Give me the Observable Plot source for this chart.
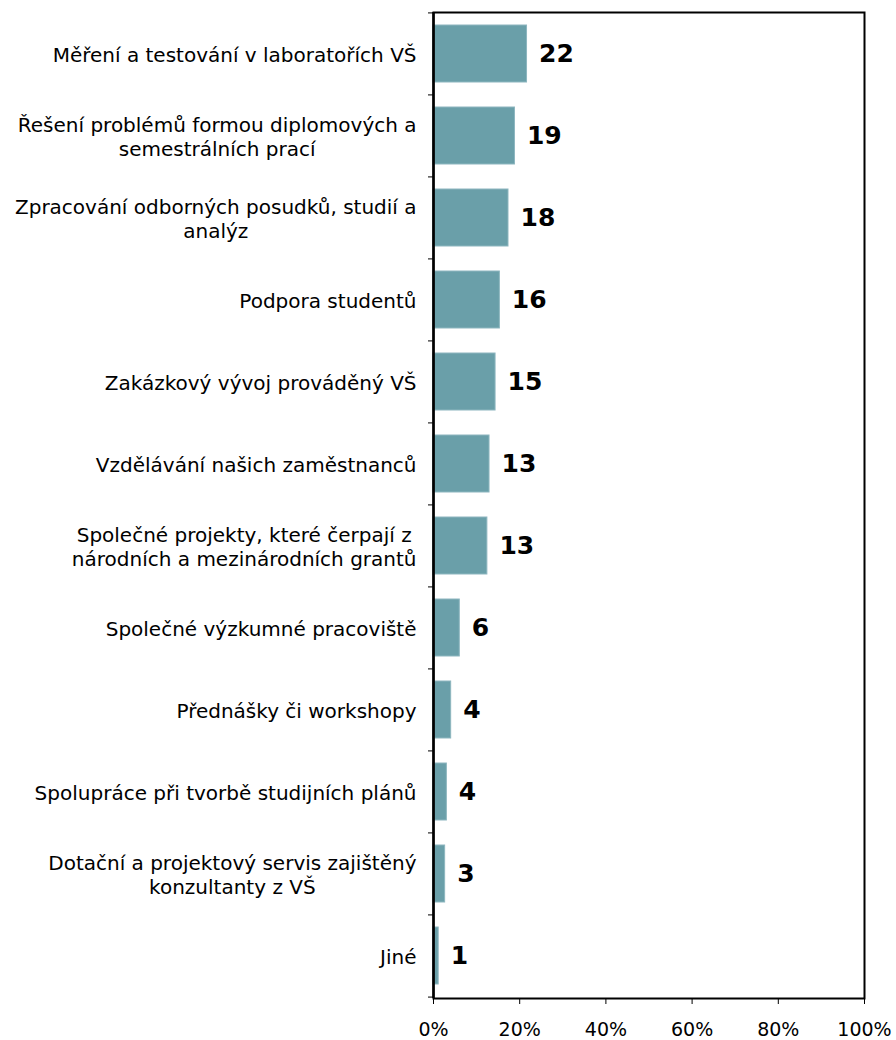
<!DOCTYPE html>
<html><head><meta charset="utf-8">
<script src="https://cdn.jsdelivr.net/npm/d3@7"></script>
<script src="https://cdn.jsdelivr.net/npm/@observablehq/plot@0.6"></script>
<style>body{margin:0;background:#fff}</style>
</head><body><div id="chart"></div>
<script>
const categories = [
  "Měření a testování v laboratořích VŠ",
  "Řešení problémů formou diplomových a\nsemestrálních prací",
  "Zpracování odborných posudků, studií a\nanalýz",
  "Podpora studentů",
  "Zakázkový vývoj prováděný VŠ",
  "Vzdělávání našich zaměstnanců",
  "Společné projekty, které čerpají z\nnárodních a mezinárodních grantů",
  "Společné výzkumné pracoviště",
  "Přednášky či workshopy",
  "Spolupráce při tvorbě studijních plánů",
  "Dotační a projektový servis zajištěný\nkonzultanty z VŠ",
  "Jiné"
];
const percents = [21.7, 18.9, 17.4, 15.4, 14.4, 13.0, 12.5, 6.1, 4.1, 3.1, 2.7, 1.2];
const valueLabels = [22, 19, 18, 16, 15, 13, 13, 6, 4, 4, 3, 1];
const xTicks = [0, 20, 40, 60, 80, 100];

const data = categories.map((c, i) => ({category: c, pct: percents[i], label: valueLabels[i]}));
const W = 896, H = 1040, mL = 433, mR = 32, mT = 12, mB = 42;
const step = (H - mT - mB) / categories.length;
const font = "'DejaVu Sans', Verdana, sans-serif";
const labelSize = 20;
const ctx = document.createElement("canvas").getContext("2d");
ctx.font = `${labelSize}px ${font}`;

const labelMarks = categories.map(c => {
  const w = d3.max(c.split("\n"), l => ctx.measureText(l).width);
  return Plot.text([c], {
    x: () => 0, y: d => d, text: d => d,
    textAnchor: "middle", lineAnchor: "middle", lineHeight: 1.2,
    fontSize: labelSize, fill: "#000", dx: -(17 + w / 2)
  });
});

const chart = Plot.plot({
  width: W, height: H,
  marginLeft: mL, marginRight: mR, marginTop: mT, marginBottom: mB,
  x: {domain: [0, 100]},
  y: {domain: categories, paddingInner: 0.3, paddingOuter: 0.15},
  style: {fontFamily: font, fontSize: "20px", color: "#000", background: "#fff"},
  marks: [
    Plot.barX(data, {x: "pct", y: "category", fill: "#6a9fa9", stroke: "#8db6bf", strokeWidth: 1, inset: 0}),
    Plot.text(data, {x: "pct", y: "category", text: d => String(d.label), textAnchor: "start", dx: 12, fontSize: 25, fontWeight: "bold", fill: "#000"}),
    ...labelMarks,
    Plot.frame({stroke: "#000", strokeWidth: 2}),
    Plot.ruleX([0], {stroke: "#000", strokeWidth: 2.5}),
    Plot.axisX({ticks: xTicks, tickFormat: d => d + "%", tickSize: 6, tickPadding: 18, fontSize: 19, label: null, stroke: "#000"}),
    Plot.axisY({ticks: categories, tickSize: 5, tickFormat: () => "", label: null, dy: -step / 2, stroke: "#000"}),
    Plot.axisY({ticks: categories.slice(-1), tickSize: 5, tickFormat: () => "", label: null, dy: step / 2, stroke: "#000"})
  ]
});
document.getElementById("chart").appendChild(chart);
</script>
</body></html>
